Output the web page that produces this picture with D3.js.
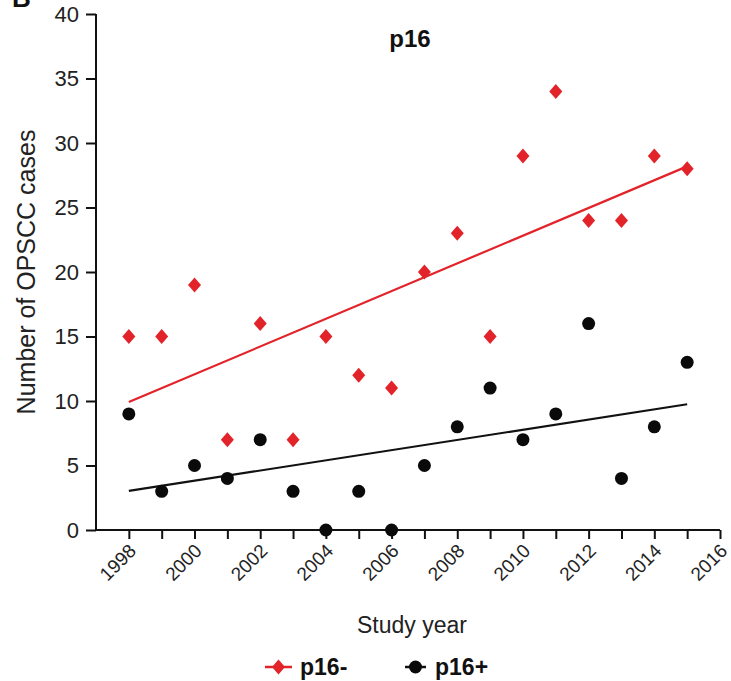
<!DOCTYPE html>
<html>
<head>
<meta charset="utf-8">
<script src="https://cdn.jsdelivr.net/npm/d3@7"></script>
<style>
  body { margin: 0; background: #fff; }
  svg { display: block; font-family: "Liberation Sans", Arial, sans-serif; }
</style>
</head>
<body>
<svg id="chart"></svg>
<script>
const years = [1998, 1999, 2000, 2001, 2002, 2003, 2004, 2005, 2006, 2007, 2008, 2009, 2010, 2011, 2012, 2013, 2014, 2015];
const p16neg = [15, 15, 19, 7, 16, 7, 15, 12, 11, 20, 23, 15, 29, 34, 24, 24, 29, 28];
const p16pos = [9, 3, 5, 4, 7, 3, 0, 3, 0, 5, 8, 11, 7, 9, 16, 4, 8, 13];
const yTicks = [0, 5, 10, 15, 20, 25, 30, 35, 40];
const xTicks = [1998, 2000, 2002, 2004, 2006, 2008, 2010, 2012, 2014, 2016];

const width = 731, height = 681;
const svg = d3.select("#chart").attr("width", width).attr("height", height);

const x = d3.scaleLinear().domain([1997, 2016]).range([96, 720]);
const y = d3.scaleLinear().domain([0, 40]).range([530, 14]);

// least squares fit
function fit(xs, ys) {
    const mx = d3.mean(xs), my = d3.mean(ys);
    const sxy = d3.sum(xs, (v, i) => (v - mx) * (ys[i] - my));
    const sxx = d3.sum(xs, v => (v - mx) * (v - mx));
    const b = sxy / sxx;
    return t => my + b * (t - mx);
}

// y axis
const yAxis = svg.append("g")
    .attr("transform", `translate(${x(1997)},0)`)
    .call(d3.axisLeft(y).tickValues(yTicks).tickSize(10).tickPadding(7));
yAxis.select(".domain").attr("stroke-width", 2).attr("d", `M0,${y(40)}V${y(0)}`);
yAxis.selectAll(".tick line").attr("stroke-width", 2);
yAxis.selectAll(".tick text").attr("font-size", 22).attr("fill", "#222")
    .style("font-family", "Liberation Sans, Arial");

// x axis: minor ticks for odd years
const xAxis = svg.append("g")
    .attr("transform", `translate(0,${y(0)})`)
    .call(d3.axisBottom(x).tickValues(d3.range(1998, 2017)).tickSize(9).tickFormat(d => xTicks.includes(d) ? d : ""));
xAxis.select(".domain").attr("stroke-width", 2).attr("d", `M${x(1997)},0H${x(2016)}`);
xAxis.selectAll(".tick line").attr("stroke-width", 2);
xAxis.selectAll(".tick text")
    .attr("font-size", 19).attr("fill", "#222")
    .style("font-family", "Liberation Sans, Arial")
    .attr("text-anchor", "end")
    .attr("dy", 0).attr("y", 0)
    .attr("transform", "translate(8,22) rotate(-45)");
svg.selectAll(".domain, .tick line").attr("stroke", "#111");

// regression lines
const fNeg = fit(years, p16neg), fPos = fit(years, p16pos);
const x0 = d3.min(years), x1 = d3.max(years);
svg.append("line").attr("x1", x(x0)).attr("x2", x(x1)).attr("y1", y(fNeg(x0))).attr("y2", y(fNeg(x1)))
    .attr("stroke", "#e3232a").attr("stroke-width", 2.2);
svg.append("line").attr("x1", x(x0)).attr("x2", x(x1)).attr("y1", y(fPos(x0))).attr("y2", y(fPos(x1)))
    .attr("stroke", "#111").attr("stroke-width", 2.2);

// points
const diamond = "M0,-7.5L6.5,0L0,7.5L-6.5,0Z";
svg.append("g").selectAll("circle").data(years).join("circle")
    .attr("cx", d => x(d)).attr("cy", (d, i) => y(p16pos[i])).attr("r", 6.5).attr("fill", "#0a0a0a");
svg.append("g").selectAll("path").data(years).join("path")
    .attr("d", diamond)
    .attr("transform", (d, i) => `translate(${x(d)},${y(p16neg[i])})`)
    .attr("fill", "#e3232a");

// titles
svg.append("text").attr("x", 410).attr("y", 47).attr("text-anchor", "middle")
    .attr("font-size", 24).attr("font-weight", "bold").attr("fill", "#111").text("p16");
svg.append("text").attr("transform", "translate(35,272) rotate(-90)").attr("text-anchor", "middle")
    .attr("font-size", 25).attr("fill", "#222").text("Number of OPSCC cases");
svg.append("text").attr("x", 412).attr("y", 633).attr("text-anchor", "middle")
    .attr("font-size", 23).attr("fill", "#222").text("Study year");
svg.append("text").attr("x", 12).attr("y", 7).attr("font-size", 26).attr("font-weight", "bold")
    .attr("fill", "#111").text("B");

// legend
const lg = svg.append("g").attr("transform", "translate(0,667)");
lg.append("line").attr("x1", 265).attr("x2", 292).attr("stroke", "#e3232a").attr("stroke-width", 2.5);
lg.append("path").attr("d", diamond).attr("transform", "translate(278.5,0)").attr("fill", "#e3232a");
lg.append("text").attr("x", 300).attr("y", 8).attr("font-size", 23).attr("font-weight", "bold").attr("fill", "#111").text("p16-");
lg.append("line").attr("x1", 405).attr("x2", 426).attr("stroke", "#111").attr("stroke-width", 2.5);
lg.append("circle").attr("cx", 415.5).attr("cy", 0).attr("r", 6.5).attr("fill", "#0a0a0a");
lg.append("text").attr("x", 435).attr("y", 8).attr("font-size", 23).attr("font-weight", "bold").attr("fill", "#111").text("p16+");
</script>
</body>
</html>
